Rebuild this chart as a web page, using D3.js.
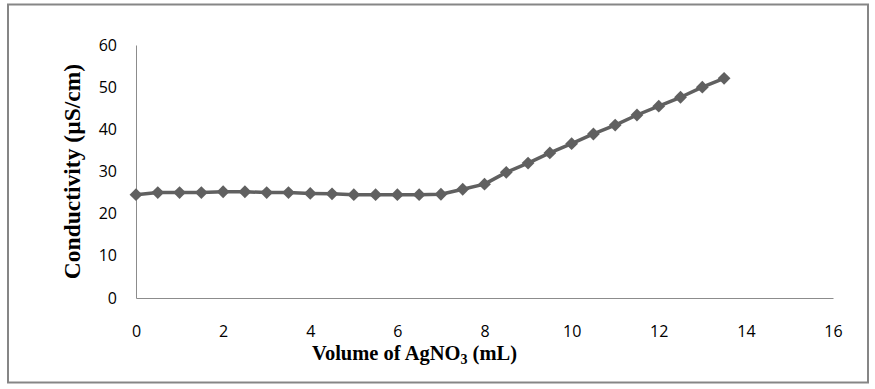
<!DOCTYPE html>
<html>
<head>
<meta charset="utf-8">
<script src="https://cdn.jsdelivr.net/npm/d3@7"></script>
<style>
    body { margin: 0; background: #fff; }
    svg { display: block; }
</style>
</head>
<body>
<div id="chart"></div>
<script>
// data
const volume = [0, 0.5, 1, 1.5, 2, 2.5, 3, 3.5, 4, 4.5, 5, 5.5, 6, 6.5, 7,
    7.5, 8, 8.5, 9, 9.5, 10, 10.5, 11, 11.5, 12, 12.5, 13, 13.5];
const conductivity = [24.5, 25, 25, 25, 25.2, 25.2, 25, 25, 24.8, 24.7, 24.5, 24.5, 24.5, 24.5, 24.6,
    25.8, 27, 29.8, 32, 34.4, 36.6, 38.9, 41, 43.4, 45.5, 47.6, 50, 52.1];
const xTicks = [0, 2, 4, 6, 8, 10, 12, 14, 16];
const yTicks = [0, 10, 20, 30, 40, 50, 60];

const W = 875, H = 389;
const MARGIN = { TOP: 45, BOTTOM: 91, LEFT: 136, RIGHT: 42 };
const WIDTH = W - MARGIN.LEFT - MARGIN.RIGHT;
const HEIGHT = H - MARGIN.TOP - MARGIN.BOTTOM;

const root = d3.select('#chart')
    .append('svg')
    .attr('width', W)
    .attr('height', H);

// outer frame
root.append('rect')
    .attr('x', 8).attr('y', 4.5)
    .attr('width', 860).attr('height', 378)
    .attr('fill', 'none')
    .attr('stroke', '#868686')
    .attr('stroke-width', 2);

const svg = root.append('g')
    .attr('transform', `translate(${MARGIN.LEFT}, ${MARGIN.TOP})`);

const x = d3.scaleLinear().domain([0, 16]).range([0, WIDTH]);
const y = d3.scaleLinear().domain([0, 60]).range([HEIGHT, 0]);

const tickFont = '"Open Sans", "Noto Sans", sans-serif';
const titleFont = '"Liberation Serif", "Times New Roman", serif';

// x axis
const xAxis = svg.append('g')
    .attr('transform', `translate(0, ${HEIGHT})`)
    .call(d3.axisBottom(x).tickValues(xTicks).tickSize(0).tickPadding(28).tickFormat(d3.format('d')));
xAxis.select('.domain').attr('stroke', '#8c8c8c');
xAxis.selectAll('text')
    .attr('font-family', tickFont)
    .attr('font-size', 16)
    .attr('fill', '#000');

// y axis
const yAxis = svg.append('g')
    .call(d3.axisLeft(y).tickValues(yTicks).tickSize(0).tickPadding(19).tickFormat(d3.format('d')));
yAxis.select('.domain').attr('stroke', '#8c8c8c');
yAxis.selectAll('text')
    .attr('font-family', tickFont)
    .attr('font-size', 16)
    .attr('fill', '#000');

// axis titles
const xTitle = svg.append('text')
    .attr('x', 176)
    .attr('y', HEIGHT + 62)
    .attr('text-anchor', 'start')
    .attr('font-family', titleFont)
    .attr('font-weight', 'bold')
    .attr('font-size', 20.5);
xTitle.append('tspan').text('Volume of AgNO');
xTitle.append('tspan').attr('font-size', 14).attr('dy', 4).text('3');
xTitle.append('tspan').attr('dy', -4).text(' (mL)');

svg.append('text')
    .attr('transform', `translate(-56, ${HEIGHT / 2}) rotate(-90)`)
    .attr('text-anchor', 'middle')
    .attr('font-family', titleFont)
    .attr('font-weight', 'bold')
    .attr('font-size', 23.5)
    .text('Conductivity (µS/cm)');

// series
const points = volume.map((v, i) => ({ v: v, c: conductivity[i] }));

svg.append('path')
    .datum(points)
    .attr('fill', 'none')
    .attr('stroke', '#606060')
    .attr('stroke-width', 3.5)
    .attr('stroke-linejoin', 'round')
    .attr('d', d3.line().x(d => x(d.v)).y(d => y(d.c)));

svg.selectAll('path.marker')
    .data(points)
    .enter()
    .append('path')
    .attr('class', 'marker')
    .attr('fill', '#606060')
    .attr('transform', d => `translate(${x(d.v)}, ${y(d.c)})`)
    .attr('d', d3.symbol().type(d3.symbolDiamond2).size(105));
</script>
</body>
</html>
